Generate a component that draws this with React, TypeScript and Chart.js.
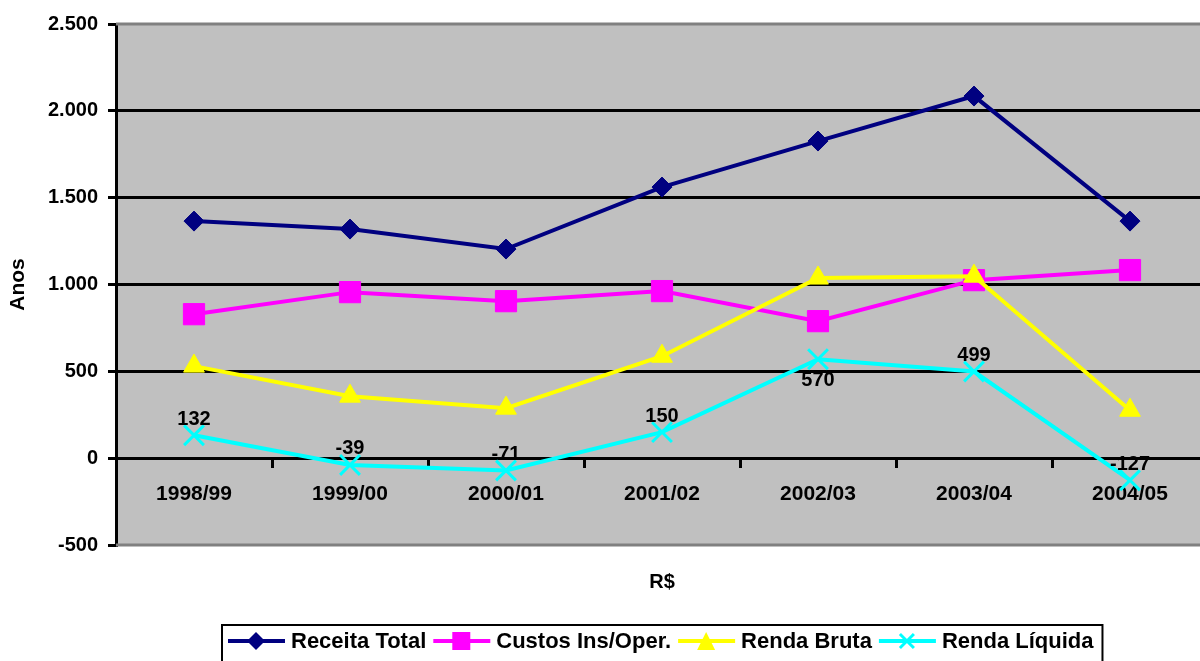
import React, { useEffect, useRef } from 'react';
import { Chart, registerables } from 'chart.js';

Chart.register(...registerables);

const categories = ['1998/99', '1999/00', '2000/01', '2001/02', '2002/03', '2003/04', '2004/05'];
const receitaTotal = [1365, 1319, 1204, 1561, 1826, 2085, 1365];
const custosInsOper = [829, 956, 904, 962, 789, 1025, 1083];
const rendaBruta = [530, 357, 288, 587, 1037, 1048, 276];
const rendaLiquida = [132, -39, -71, 150, 570, 499, -127];
const yMin = -500;
const yMax = 2500;
const yStep = 500;
const seriesNames = ['Receita Total', 'Custos Ins/Oper.', 'Renda Bruta', 'Renda Líquida'];
const seriesColors = ['#000080', '#FF00FF', '#FFFF00', '#00FFFF'];
const seriesMarkers = ['rectRot', 'rect', 'triangle', 'crossRot'];
const labelPlacement = ['above', 'above', 'above', 'above', 'below', 'above', 'above'];
const yTitle = 'Anos';
const xTitle = 'R$';

const FONT = "'Liberation Sans', Arial, sans-serif";
const W = 1225;
const H = 661;

function fmt(v: number): string {
  const s = String(Math.abs(v)).replace(/\B(?=(\d{3})+(?!\d))/g, '.');
  return v < 0 ? '-' + s : s;
}

function drawMarker(ctx: CanvasRenderingContext2D, style: string, x: number, y: number, r: number, color: string) {
  ctx.save();
  ctx.fillStyle = color;
  ctx.strokeStyle = color;
  ctx.beginPath();
  if (style === 'rectRot') {
    ctx.moveTo(x, y - r);
    ctx.lineTo(x + r, y);
    ctx.lineTo(x, y + r);
    ctx.lineTo(x - r, y);
    ctx.closePath();
    ctx.fill();
  } else if (style === 'rect') {
    ctx.rect(x - r, y - r, 2 * r, 2 * r);
    ctx.fill();
  } else if (style === 'triangle') {
    ctx.moveTo(x, y - r);
    ctx.lineTo(x + r, y + r);
    ctx.lineTo(x - r, y + r);
    ctx.closePath();
    ctx.fill();
  } else {
    ctx.lineWidth = 3;
    ctx.moveTo(x - r, y - r);
    ctx.lineTo(x + r, y + r);
    ctx.moveTo(x + r, y - r);
    ctx.lineTo(x - r, y + r);
    ctx.stroke();
  }
  ctx.restore();
}

const decorPlugin = {
  id: 'decor',
  beforeDraw(chart: any) {
    const { ctx, chartArea: a } = chart;
    ctx.save();
    ctx.fillStyle = '#C0C0C0';
    ctx.fillRect(a.left, a.top, a.right - a.left, a.bottom - a.top);
    ctx.restore();
  },
  beforeDatasetsDraw(chart: any) {
    const { ctx, chartArea: a } = chart;
    ctx.save();
    ctx.strokeStyle = '#808080';
    ctx.lineWidth = 3;
    ctx.beginPath();
    ctx.moveTo(a.left, a.top);
    ctx.lineTo(a.right, a.top);
    ctx.moveTo(a.left, a.bottom);
    ctx.lineTo(a.right, a.bottom);
    ctx.stroke();
    ctx.restore();
  },
  afterDraw(chart: any) {
    const { ctx, chartArea: a } = chart;
    ctx.save();
    // data labels for Renda Líquida
    const meta = chart.getDatasetMeta(3);
    ctx.font = `bold 20px ${FONT}`;
    ctx.fillStyle = '#000';
    ctx.textAlign = 'center';
    ctx.textBaseline = 'middle';
    meta.data.forEach((pt: any, i: number) => {
      const dy = labelPlacement[i] === 'below' ? 21 : -16;
      ctx.fillText(fmt(rendaLiquida[i]), pt.x, pt.y + dy);
    });
    // x title
    ctx.fillText(xTitle, (a.left + a.right) / 2, 582);
    // legend
    const lx0 = 222;
    const ly = 641;
    ctx.font = `bold 22px ${FONT}`;
    let x = lx0 + 6;
    const items: { x: number; i: number }[] = [];
    seriesNames.forEach((name, i) => {
      items.push({ x, i });
      x += 57 + 6 + ctx.measureText(name).width + 7;
    });
    const right = x + 2;
    ctx.strokeStyle = '#000';
    ctx.lineWidth = 2;
    ctx.strokeRect(lx0, 625, right - lx0, 60);
    ctx.textAlign = 'left';
    items.forEach(({ x: ix, i }) => {
      ctx.strokeStyle = seriesColors[i];
      ctx.lineWidth = 4;
      ctx.beginPath();
      ctx.moveTo(ix, ly);
      ctx.lineTo(ix + 57, ly);
      ctx.stroke();
      const r = seriesMarkers[i] === 'rect' ? 9 : seriesMarkers[i] === 'crossRot' ? 7 : 9;
      drawMarker(ctx, seriesMarkers[i], ix + 28, ly, r, seriesColors[i]);
      ctx.fillStyle = '#000';
      ctx.fillText(seriesNames[i], ix + 63, ly + 1);
    });
    ctx.restore();
  },
};

export default function App() {
  const ref = useRef<HTMLCanvasElement | null>(null);
  useEffect(() => {
    if (!ref.current) return;
    const mk = (label: string, data: number[], i: number, radius: number, order: number) => ({
      label,
      data,
      borderColor: seriesColors[i],
      backgroundColor: seriesColors[i],
      borderWidth: 4,
      pointStyle: seriesMarkers[i] as any,
      pointRadius: radius,
      pointHoverRadius: radius,
      pointBorderWidth: seriesMarkers[i] === 'crossRot' ? 3 : 1,
      pointBorderColor: seriesColors[i],
      pointBackgroundColor: seriesColors[i],
      tension: 0,
      order,
    });
    const chart = new Chart(ref.current, {
      type: 'line',
      data: {
        labels: categories,
        datasets: [
          mk(seriesNames[0], receitaTotal, 0, 10, 4),
          mk(seriesNames[1], custosInsOper, 1, 15, 3),
          mk(seriesNames[2], rendaBruta, 2, 12, 2),
          mk(seriesNames[3], rendaLiquida, 3, 14, 1),
        ],
      },
      options: {
        responsive: false,
        animation: false,
        devicePixelRatio: 1,
        layout: { padding: { left: 0, top: 24, right: 0, bottom: H - 545 } },
        plugins: { legend: { display: false }, tooltip: { enabled: false } },
        scales: {
          x: {
            type: 'category',
            position: { y: 0 } as any,
            offset: true,
            border: { display: true, color: '#000', width: 3 },
            grid: {
              display: true,
              drawOnChartArea: false,
              drawTicks: true,
              tickLength: 8,
              offset: true,
              tickColor: '#000',
              lineWidth: 3,
            },
            ticks: {
              color: '#000',
              font: { family: FONT, size: 21, weight: 'bold' },
              padding: 15,
              maxRotation: 0,
              autoSkip: false,
            },
          },
          y: {
            type: 'linear',
            position: 'left',
            min: yMin,
            max: yMax,
            border: { display: true, color: '#000', width: 3 },
            grid: {
              color: (c: any) =>
                c.tick && (c.tick.value === yMin || c.tick.value === yMax) ? 'rgba(0,0,0,0)' : '#000',
              tickColor: '#000',
              tickLength: 8,
              lineWidth: 3,
            },
            ticks: {
              stepSize: yStep,
              color: '#000',
              font: { family: FONT, size: 20, weight: 'bold' },
              padding: 10,
              callback: (v: any) => fmt(Number(v)),
            },
            title: {
              display: true,
              text: yTitle,
              color: '#000',
              font: { family: FONT, size: 21, weight: 'bold' },
              padding: { top: 6, bottom: 0 },
            },
            afterFit: (s: any) => {
              s.width = 116;
            },
          },
        },
      },
      plugins: [decorPlugin],
    });
    return () => chart.destroy();
  }, []);
  return (
    <div style={{ position: 'fixed', left: 0, top: 0, width: 1200, height: 661, overflow: 'hidden', background: '#fff' }}>
      <canvas ref={ref} width={W} height={H} style={{ display: 'block', width: W, height: H }} />
    </div>
  );
}
